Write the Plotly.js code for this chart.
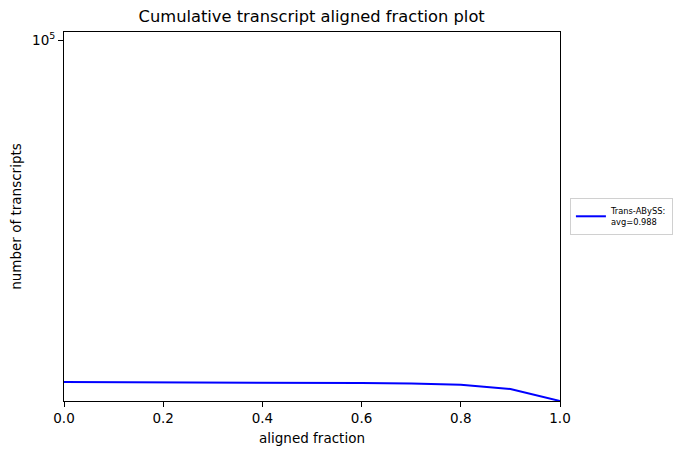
<!DOCTYPE html>
<html>
<head>
<meta charset="utf-8">
<script src="https://cdn.plot.ly/plotly-3.0.1.min.js"></script>
<style>html,body{margin:0;padding:0;background:#fff;}#chart{width:679px;height:455px;}</style>
</head>
<body>
<div id="chart"></div>
<script>
const alignedFraction = [0.0, 0.1, 0.2, 0.3, 0.4, 0.5, 0.6, 0.7, 0.8, 0.9, 1.0];
const transcriptCounts = [92404, 92402, 92400, 92398, 92396, 92393, 92383, 92372, 92346, 92255, 92000];
const seriesName = 'Trans-ABySS:<br>avg=0.988';
const yTickVals = [100000];
const yTickText = ['10<sup>5</sup>'];
const xTickVals = [0, 0.2, 0.4, 0.6, 0.8, 1.0];
const xTickText = ['0.0', '0.2', '0.4', '0.6', '0.8', '1.0'];

const font = 'DejaVu Sans, sans-serif';
const trace = {
  x: alignedFraction,
  y: transcriptCounts,
  type: 'scatter',
  mode: 'lines',
  name: seriesName,
  line: {color: '#0000ff', width: 2}
};
const yMin = Math.log10(Math.min(...transcriptCounts));
const yTop = yMin + (5 - yMin) * (401 - 32) / (401 - 40);
const layout = {
  width: 679, height: 455,
  margin: {l: 64, r: 119, t: 32, b: 54, autoexpand: false},
  paper_bgcolor: '#fff', plot_bgcolor: '#fff',
  font: {family: font, color: '#000'},
  title: {text: 'Cumulative transcript aligned fraction plot', font: {size: 16.3, family: font, color: '#000'}, x: 0.459, xanchor: 'center', y: 0.965, yanchor: 'middle'},
  showlegend: true,
  legend: {x: 1.02, xanchor: 'left', y: 0.5, yanchor: 'middle', font: {size: 8.3, family: font}, bordercolor: '#d0d0d0', borderwidth: 1, itemwidth: 30, tracegroupgap: 0},
  xaxis: {
    range: [0, 1], tickvals: xTickVals, ticktext: xTickText,
    showgrid: false, zeroline: false, showline: true, mirror: true, linecolor: '#000', linewidth: 1,
    ticks: 'outside', ticklen: 5, tickcolor: '#000', tickfont: {size: 13.5, family: font},
    title: {text: 'aligned fraction', font: {size: 13.5, family: font}, standoff: 8}
  },
  yaxis: {
    type: 'log', range: [yMin, yTop], tickvals: yTickVals, ticktext: yTickText,
    showgrid: false, zeroline: false, showline: true, mirror: true, linecolor: '#000', linewidth: 1,
    ticks: 'outside', ticklen: 5, tickcolor: '#000', tickfont: {size: 13.5, family: font},
    title: {text: 'number of transcripts', font: {size: 13.5, family: font}, standoff: 7}
  }
};
Plotly.newPlot('chart', [trace], layout, {displayModeBar: false, staticPlot: true});
</script>
</body>
</html>
